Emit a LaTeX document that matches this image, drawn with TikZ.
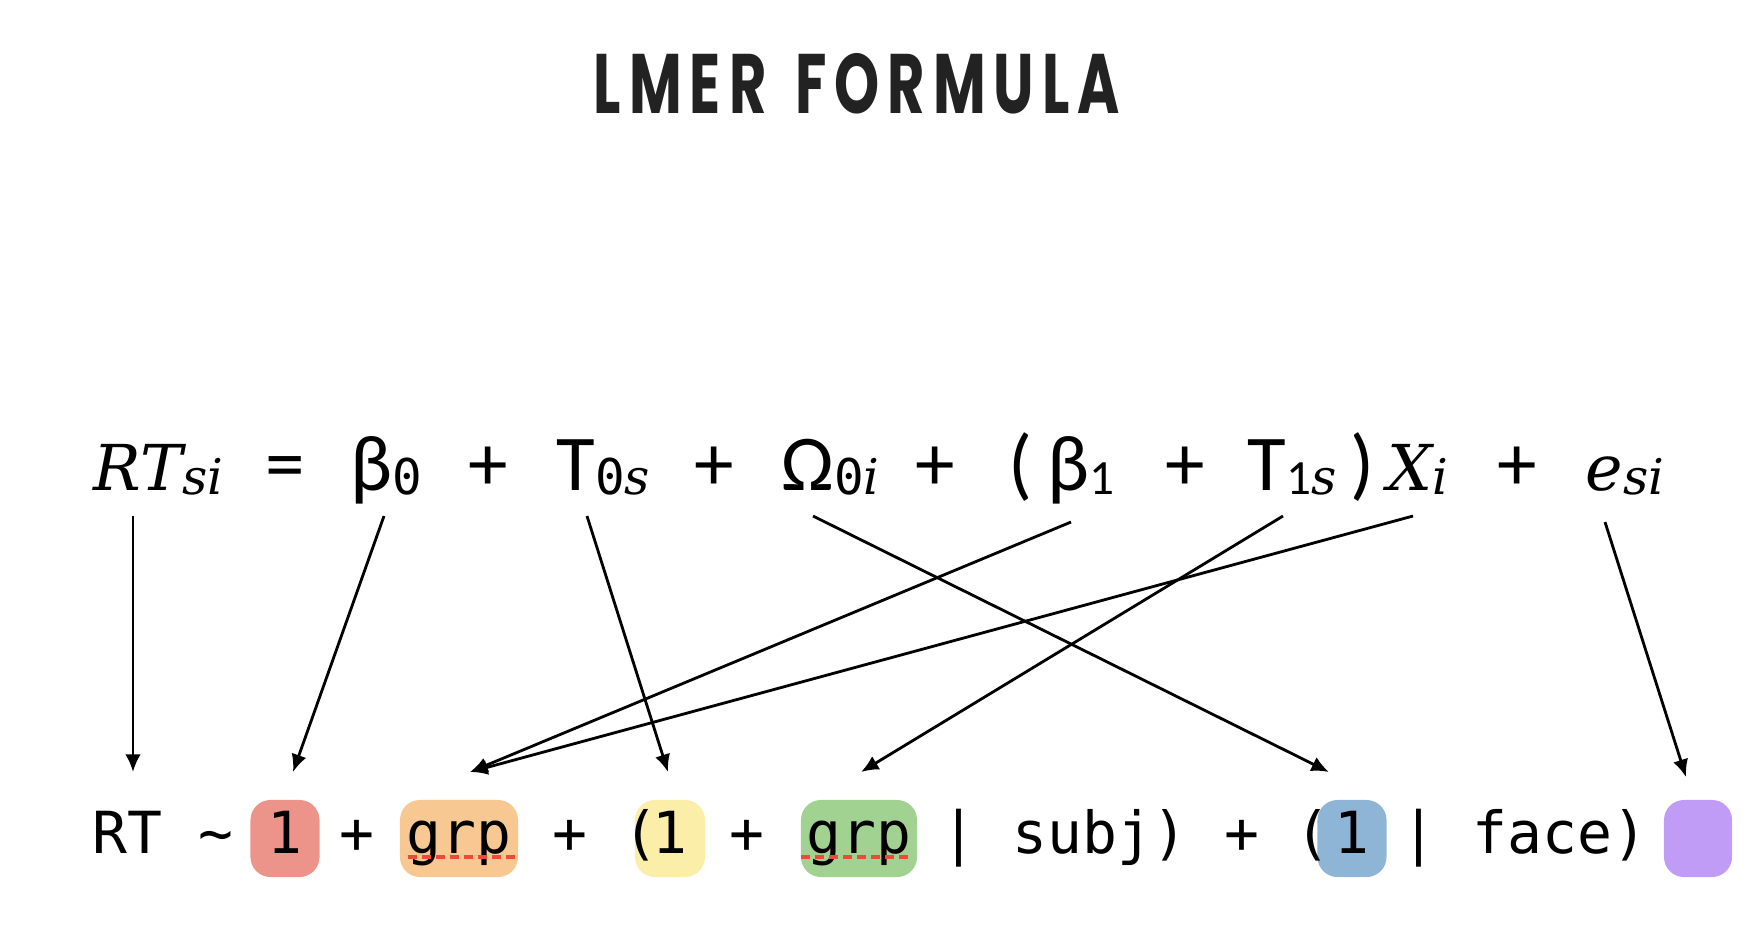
\documentclass[tikz,border=0pt]{standalone}
\usepackage{graphicx}
\usepackage{fontspec}
\newfontfamily\titlefont{Poppins}[LetterSpace=14]
\newfontfamily\symfont{Carlito}
\newfontfamily\codefont{DejaVu Sans Mono}
\newfontfamily\varfont{DejaVu Serif}
\usetikzlibrary{arrows.meta, calc}

\definecolor{titlegray}{RGB}{34,34,34}
\definecolor{hlred}{RGB}{236,148,138}
\definecolor{hlorange}{RGB}{248,200,146}
\definecolor{hlyellow}{RGB}{250,238,168}
\definecolor{hlgreen}{RGB}{162,210,146}
\definecolor{hlblue}{RGB}{142,180,214}
\definecolor{hlpurple}{RGB}{192,156,246}
\definecolor{spellred}{RGB}{235,75,55}

\newcommand{\lowidx}[1]{\raisebox{-1.2pt}{\fontsize{14}{14}\selectfont #1}}
\newcommand{\ivar}[1]{{\varfont\itshape #1}}

\begin{document}
\begin{tikzpicture}[x=0.01cm, y=-0.01cm, >={Latex[length=5pt,width=4.4pt]}]
  \tikzset{
    eqtok/.style={inner sep=0pt, anchor=base west, font=\fontsize{22.5}{26}\selectfont\symfont},
    mathtok/.style={inner sep=0pt, anchor=base west, font=\fontsize{18}{22}\selectfont},
    code/.style={inner sep=0pt, anchor=base west, font=\fontsize{16.5}{20}\selectfont\codefont},
    hl/.style 2 args={code, anchor=base, fill=#1, minimum width=#2, rounded corners=0.2cm,
      inner xsep=0pt, text height=0.53cm, text depth=0.24cm},
    link/.style={->, line width=0.8pt},
    spell/.style={draw=spellred, line width=1pt, dash pattern=on 2.5pt off 1.5pt}
  }
  \useasboundingbox (0,0) rectangle (1754,938);

  % title
  \node[anchor=base, text=titlegray, font=\fontsize{24}{28}\selectfont\titlefont\bfseries] (title)
    at (857,113) {\scalebox{0.68}[1]{LMER\hspace{0.5em}FORMULA}};

  % model equation
  \node[mathtok] (rtsi) at (93,490) {\ivar{RT}\lowidx{\ivar{si}}};
  \node[eqtok] (eq) at (265,490) {=};
  \node[eqtok] (b0) at (350,490) {β\lowidx{\codefont 0}};
  \node[eqtok] (p1) at (468,490) {+};
  \node[eqtok] (t0s) at (556,490) {Τ\lowidx{{\codefont 0}\ivar{s}}};
  \node[eqtok] (p2) at (694,490) {+};
  \node[eqtok] (o0i) at (781,490) {Ω\lowidx{{\codefont 0}\ivar{i}}};
  \node[eqtok] (p3) at (915,490) {+};
  \node[eqtok] (lp) at (1008,490) {(};
  \node[eqtok] (b1) at (1047,490) {β\lowidx{1}};
  \node[eqtok] (p4) at (1165,490) {+};
  \node[eqtok] (t1s) at (1247,490) {Τ\lowidx{1\ivar{s}}};
  \node[eqtok] (rp) at (1350,490) {)};
  \node[mathtok] (xi) at (1387,490) {\ivar{X}\lowidx{\ivar{i}}};
  \node[eqtok] (p5) at (1497,490) {+};
  \node[mathtok] (esi) at (1585,490) {\ivar{e}\lowidx{\ivar{si}}};

  % lmer call
  \node[code] (rt) at (92,853) {RT};
  \node[code] (tilde) at (198,853) {\textasciitilde};
  \node[hl={hlred}{0.69cm}] (one) at (285,853) {1};
  \node[code] (q1) at (339,853) {+};
  \node[hl={hlorange}{1.18cm}] (grp) at (459,853) {grp};
  \node[code] (q2) at (552,853) {+};
  \node[hl={hlyellow}{0.70cm}] (oneb) at (670,853) {1};
  \node[code] (lpa) at (623,853) {(};
  \node[code] (q3) at (729,853) {+};
  \node[hl={hlgreen}{1.16cm}] (grpb) at (859,853) {grp};
  \node[code] (bar1) at (941,853) {|};
  \node[code] (subj) at (1012,853) {subj)};
  \node[code] (q4) at (1224,853) {+};
  \node[hl={hlblue}{0.69cm}] (onec) at (1352,853) {1};
  \node[code] (lpb) at (1295,853) {(};
  \node[code] (bar2) at (1401,853) {|};
  \node[code] (face) at (1472,853) {face)};
  \node[hl={hlpurple}{0.68cm}] (err) at (1698,853) {};

  % spell-check marks
  \draw[spell] (408,857) -- (520,857);
  \draw[spell] (801,857) -- (908,857);

  % links
  \draw[link] ($(rtsi.base west)+(40,26)$) -- ($(rt.base west)+(41,-81)$);
  \draw[link] ($(b0.base west)+(34,26)$) -- ($(one.base)+(8,-81)$);
  \draw[link] ($(t0s.base west)+(31,26)$) -- ($(oneb.base)+(-2,-81)$);
  \draw[link] ($(o0i.base west)+(32,26)$) -- ($(onec.base)+(-23,-81)$);
  \draw[link] ($(b1.base west)+(24,32)$) -- ($(grp.base)+(11,-81)$);
  \draw[link] ($(t1s.base west)+(36,26)$) -- ($(grpb.base)+(2,-81)$);
  \draw[link] ($(xi.base west)+(26,26)$) -- ($(grp.base)+(11,-81)$);
  \draw[link] ($(esi.base west)+(20,32)$) -- ($(err.base)+(-12,-76)$);
\end{tikzpicture}
\end{document}
